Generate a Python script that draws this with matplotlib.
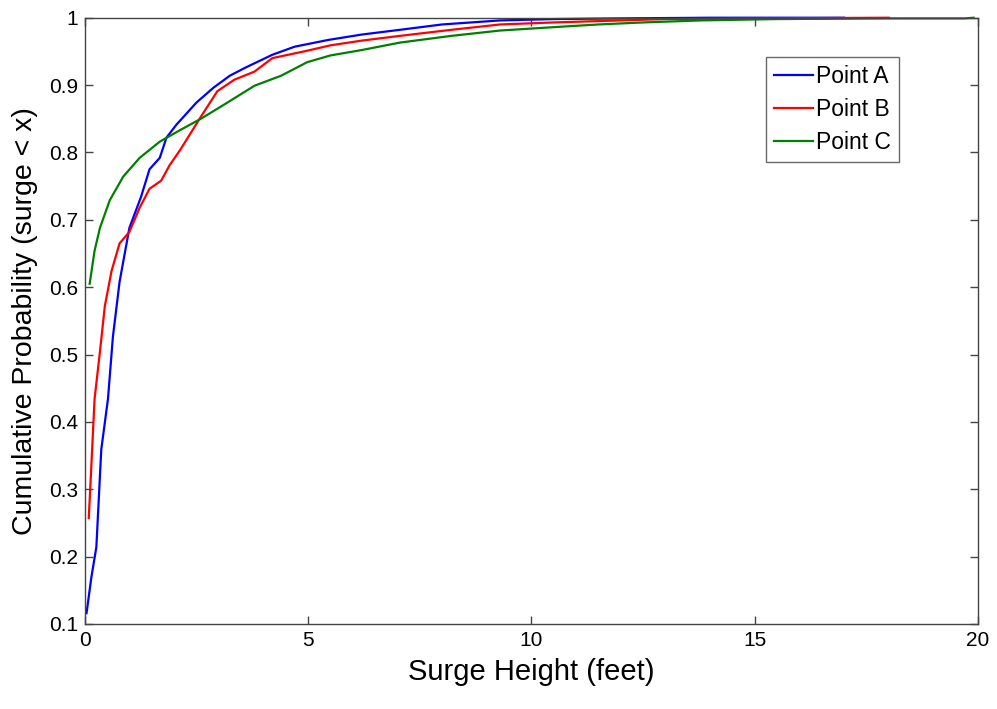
import matplotlib
matplotlib.use("Agg")
import matplotlib.pyplot as plt

plt.rcParams["font.family"] = ["Liberation Sans", "DejaVu Sans"]

# surge height (feet) vs cumulative probability
x_a = [0.04, 0.15, 0.26, 0.37, 0.52, 0.63, 0.78, 1.0, 1.26, 1.45, 1.68, 1.83, 2.05,
       2.5, 2.88, 3.25, 3.6, 4.2, 4.7, 5.45, 6.2, 7.05, 8.0, 9.3, 10.5, 12.0, 14.0, 17.0]
y_a = [0.116, 0.17, 0.214, 0.359, 0.434, 0.526, 0.608, 0.688, 0.734, 0.775, 0.792, 0.822, 0.841,
       0.874, 0.896, 0.914, 0.926, 0.945, 0.957, 0.967, 0.975, 0.982, 0.99, 0.996, 0.998, 0.999, 1.0, 1.0]

x_b = [0.09, 0.14, 0.22, 0.34, 0.45, 0.6, 0.78, 1.0, 1.23, 1.45, 1.71, 1.9, 2.14,
       2.6, 2.97, 3.35, 3.8, 4.2, 4.98, 5.5, 6.2, 7.05, 8.2, 9.3, 10.5, 11.5, 13.0, 15.0, 18.0]
y_b = [0.257, 0.324, 0.434, 0.504, 0.572, 0.624, 0.665, 0.682, 0.718, 0.746, 0.758, 0.781, 0.804,
       0.853, 0.891, 0.908, 0.92, 0.94, 0.951, 0.959, 0.966, 0.973, 0.982, 0.99, 0.993, 0.995, 0.998, 0.999, 1.0]

x_c = [0.11, 0.22, 0.34, 0.56, 0.86, 1.23, 1.68, 2.13, 2.6, 3.12, 3.8, 4.4, 4.98,
       5.5, 6.2, 7.05, 8.2, 9.3, 10.5, 11.5, 12.5, 13.8, 15.5, 18.0, 19.7, 19.9]
y_c = [0.605, 0.654, 0.688, 0.729, 0.764, 0.792, 0.816, 0.833, 0.85, 0.871, 0.899, 0.914, 0.934,
       0.944, 0.952, 0.963, 0.973, 0.981, 0.986, 0.99, 0.993, 0.996, 0.998, 0.999, 0.999, 1.0]

series = [
    ("Point A", x_a, y_a, "#0000ff"),
    ("Point B", x_b, y_b, "#ff0000"),
    ("Point C", x_c, y_c, "#008000"),
]

x_ticks = [0, 5, 10, 15, 20]
y_ticks = [0.1, 0.2, 0.3, 0.4, 0.5, 0.6, 0.7, 0.8, 0.9, 1.0]
y_tick_labels = ["0.1", "0.2", "0.3", "0.4", "0.5", "0.6", "0.7", "0.8", "0.9", "1"]

fig = plt.figure(figsize=(9.97, 7.09), dpi=100)
ax = fig.add_axes([0.085, 0.12, 0.896, 0.855])

for label, xs, ys, color in series:
    ax.plot(xs, ys, color=color, lw=1.6, label=label, clip_on=False)

ax.set_xlim(0, 20)
ax.set_ylim(0.1, 1.0)
ax.set_xticks(x_ticks)
ax.set_xticklabels([str(t) for t in x_ticks])
ax.set_yticks(y_ticks)
ax.set_yticklabels(y_tick_labels)
ax.tick_params(direction="in", top=True, right=True, length=6, width=1,
               labelsize=15, color="#444444", pad=5)
for spine in ax.spines.values():
    spine.set_color("#444444")
    spine.set_linewidth(1.0)

ax.set_xlabel("Surge Height (feet)", fontsize=21, labelpad=6)
ax.set_ylabel("Cumulative Probability (surge < x)", fontsize=20.5, labelpad=8)

leg = ax.legend(loc="upper left", bbox_to_anchor=(0.763, 0.936), fontsize=16.5,
                frameon=True, fancybox=False, handlelength=1.7, handletextpad=0.12,
                labelspacing=0.45, borderpad=0.35, borderaxespad=0.0)
leg.get_frame().set_edgecolor("#444444")
leg.get_frame().set_linewidth(1.0)

fig.savefig("out.png", dpi=100)
